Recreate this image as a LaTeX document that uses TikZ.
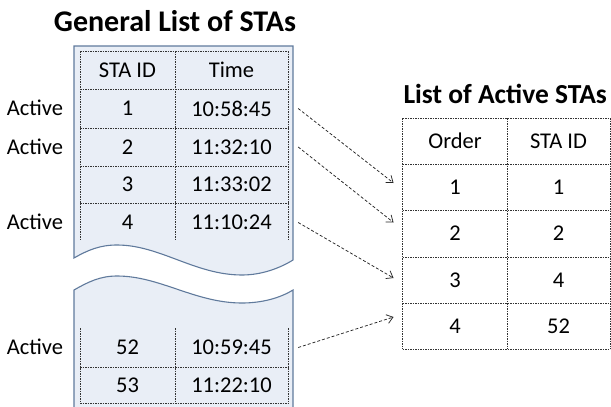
\documentclass[tikz,border=0pt]{standalone}
\usepackage{fontspec}
\setmainfont{Carlito}
\usetikzlibrary{arrows.meta}
\definecolor{panelfill}{RGB}{233,238,246}
\definecolor{paneledge}{RGB}{96,122,156}
\tikzset{
  panel/.style={draw=paneledge,fill=panelfill,line width=1.1pt},
  cellline/.style={black!80,line width=0.6pt,dash pattern=on 1.6pt off 0.9pt},
  linkarrow/.style={black!85,line width=0.75pt,dash pattern=on 3pt off 2pt,-{Straight Barb[length=6pt,width=9pt]}},
  cell/.style={inner sep=0pt,minimum height=30pt},
  heading/.style={font=\fontsize{30}{33}\selectfont\bfseries}
}
\begin{document}
\begin{tikzpicture}[x=1pt,y=-1pt,font=\fontsize{22.5}{26}\selectfont]
  \useasboundingbox (0,0) rectangle (611,407);
  % general list, split in two parts by a wave
  \draw[panel] (74,46) -- (293,46) -- (293,260)
    .. controls (280,268) and (262,275) .. (242,275)
    .. controls (195,275) and (160,245) .. (117,245)
    .. controls (100,245) and (88,250) .. (74,258) -- cycle;
  \draw[panel] (74,409) -- (74,290)
    .. controls (88,282) and (100,276) .. (117,276)
    .. controls (160,276) and (195,303) .. (242,303)
    .. controls (262,303) and (280,298) .. (293,290) -- (293,409);
  \foreach \x in {80,175,288} {
      \draw[cellline] (\x,51) -- (\x,240);
      \draw[cellline] (\x,328) -- (\x,403);
    }
  \foreach \y in {51,89,128,166,203,367,403} {
      \draw[cellline] (80,\y) -- (288,\y);
    }
  % active list
  \foreach \x in {402.5,507,610} {
      \draw[cellline] (\x,118) -- (\x,349);
    }
  \foreach \y in {118,164,210,257,303,349} {
      \draw[cellline] (402.5,\y) -- (610,\y);
    }

  \node[heading] (gtitle) at (175,21) {General List of STAs};
  \node[heading,font=\fontsize{27.5}{30}\selectfont\bfseries,anchor=west] (atitle) at (400,94) {List of Active STAs};

  \node[cell,minimum width=95pt] (gid) at (127.5,70) {STA ID};
  \node[cell,minimum width=113pt] (gtime) at (231.5,70) {Time};
  \foreach \i/\y/\sta/\t in {1/108.5/1/10:58:45,2/147/2/11:32:10,3/184.5/3/11:33:02,
      4/222.5/4/11:10:24,52/347.5/52/10:59:45,53/385/53/11:22:10} {
      \node[cell,minimum width=95pt] (id\i) at (127.5,\y) {\sta};
      \node[cell,minimum width=113pt] (tm\i) at (231.5,\y) {\t};
    }
  \foreach \i/\y in {1/107.5,2/146.5,4/221.5,52/347} {
      \node (act\i) at (35,\y) {Active};
    }

  \node[cell,minimum width=104.5pt] (aord) at (455,141) {Order};
  \node[cell,minimum width=103pt] (aid) at (558.5,141) {STA ID};
  \foreach \i/\y/\sta in {1/187/1,2/233.5/2,3/280/4,4/326/52} {
      \node[cell,minimum width=104.5pt] (ord\i) at (455,\y) {\i};
      \node[cell,minimum width=103pt] (sid\i) at (558.5,\y) {\sta};
    }

  \draw[linkarrow] ([xshift=10pt]tm1.east) -- ([xshift=-9pt,yshift=4pt]ord1.west);
  \draw[linkarrow] ([xshift=10pt]tm2.east) -- ([xshift=-9pt,yshift=11pt]ord2.west);
  \draw[linkarrow] ([xshift=10pt]tm4.east) -- ([xshift=-9pt,yshift=2pt]ord3.west);
  \draw[linkarrow] ([xshift=10pt]tm52.east) -- ([xshift=-9pt,yshift=9pt]ord4.west);
\end{tikzpicture}
\end{document}
